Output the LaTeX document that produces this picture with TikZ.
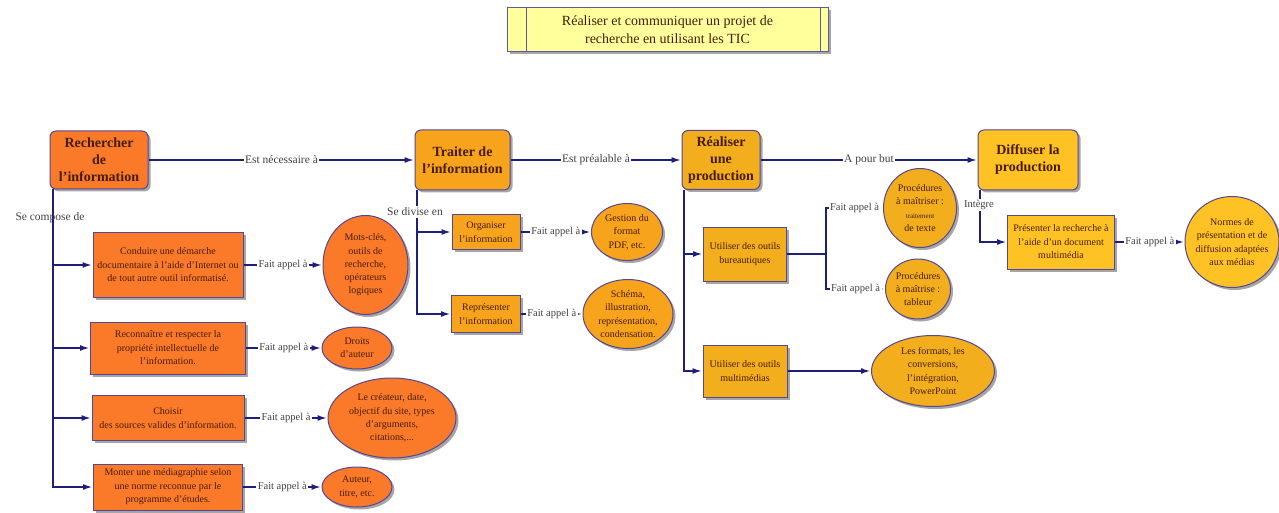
\documentclass[tikz,border=0pt]{standalone}
\usepackage{fontspec}
\setmainfont{Liberation Serif}
\usetikzlibrary{shapes.geometric,shadows,arrows.meta}
\definecolor{linkblue}{RGB}{30,30,125}
\definecolor{edgeblue}{RGB}{85,70,150}
\definecolor{txtbrown}{RGB}{70,28,8}
\definecolor{lblgray}{RGB}{65,65,65}
\definecolor{orangeA}{RGB}{250,122,42}
\definecolor{orangeB}{RGB}{247,163,27}
\definecolor{orangeC}{RGB}{242,174,28}
\definecolor{orangeD}{RGB}{255,194,36}
\definecolor{titlefill}{RGB}{255,255,155}

\begin{document}
\begin{tikzpicture}[x=1pt,y=-1pt,
        link/.style={draw=linkblue,line width=2pt},
        arr/.style={link,-{Latex[length=10pt,width=6pt]}},
        lbl/.style={font=\fontsize{10.5}{12}\selectfont,text=lblgray,fill=white,inner sep=1.5pt},
        biglbl/.style={lbl,font=\fontsize{11.5}{13}\selectfont},
        boxbase/.style={draw=edgeblue,line width=1pt,text=txtbrown,align=center,inner sep=2pt,
            drop shadow={shadow xshift=2.5pt,shadow yshift=-2.5pt,fill=black,opacity=0.35}},
        mainbox/.style={boxbase,rounded corners=6pt,font=\bfseries\fontsize{14}{17}\selectfont},
        subbox/.style={boxbase,rectangle,font=\fontsize{10}{13.5}\selectfont},
        bubble/.style={boxbase,ellipse,inner sep=0pt,font=\fontsize{10}{13.3}\selectfont},
    ]
    \useasboundingbox (0,0) rectangle (1279,513);

    % title
    \node[boxbase,rectangle,fill=titlefill,draw=gray!70!blue,minimum width=321pt,minimum height=44pt,
        font=\fontsize{14}{18}\selectfont] (title) at (667.5,30)
        {Réaliser et communiquer un projet de\\recherche en utilisant les TIC};
    \draw[gray!70!blue,line width=0.8pt]
        ([xshift=20pt]title.north west) -- ([xshift=20pt]title.south west)
        ([xshift=-8pt]title.north east) -- ([xshift=-8pt]title.south east);

    % main steps
    \node[mainbox,fill=orangeA,minimum width=98pt,minimum height=58pt] (rech) at (99,160) {Rechercher\\de\\l'information};
    \node[mainbox,fill=orangeB,minimum width=95pt,minimum height=60pt] (trait) at (462.5,160) {Traiter de\\l'information};
    \node[mainbox,fill=orangeC,minimum width=78pt,minimum height=59pt] (real) at (721,160) {Réaliser\\une\\production};
    \node[mainbox,fill=orangeD,minimum width=100pt,minimum height=60pt] (diff) at (1028,160) {Diffuser la\\production};

    \draw[arr] (rech) -- node[biglbl]{Est nécessaire à} (trait);
    \draw[arr] (trait) -- node[biglbl]{Est préalable à} (real);
    \draw[arr] (real) -- node[biglbl]{A pour but} (diff);

    % rechercher
    \node[subbox,fill=orangeA,minimum width=150pt,minimum height=65pt] (b1) at (168,265)
        {Conduire une démarche\\documentaire à l'aide d'Internet ou\\de tout autre outil informatisé.};
    \node[subbox,fill=orangeA,minimum width=155pt,minimum height=52pt] (b2) at (168,348)
        {Reconnaître et respecter la\\propriété intellectuelle de\\l'information.};
    \node[subbox,fill=orangeA,minimum width=152pt,minimum height=45pt] (b3) at (168,418)
        {Choisir\\des sources valides d'information.};
    \node[subbox,fill=orangeA,minimum width=149pt,minimum height=46pt] (b4) at (168,487)
        {Monter une médiagraphie selon\\une norme reconnue par le\\programme d'études.};

    \node[bubble,fill=orangeA,minimum width=85pt,minimum height=99pt] (e1) at (365.5,265)
        {Mots-clés,\\outils de\\recherche,\\opérateurs\\logiques};
    \node[bubble,fill=orangeA,minimum width=70pt,minimum height=42pt] (e2) at (357,348) {Droits\\d'auteur};
    \node[bubble,fill=orangeA,minimum width=128pt,minimum height=80pt] (e3) at (392,418)
        {Le créateur, date,\\objectif du site, types\\d'arguments,\\citations,...};
    \node[bubble,fill=orangeA,minimum width=70pt,minimum height=40pt] (e4) at (357,487) {Auteur,\\titre, etc.};

    \foreach \i in {1,...,4} {
        \draw[arr] ([xshift=3pt]rech.south west) |- (b\i.west);
        \draw[arr] (b\i) -- node[lbl]{Fait appel à} (e\i);
    }
    \node[biglbl,fill=none] (compose) at (50,218) {Se compose de};

    % traiter
    \node[subbox,fill=orangeB,minimum width=68pt,minimum height=35pt] (org) at (486,232) {Organiser\\l'information};
    \node[subbox,fill=orangeB,minimum width=69pt,minimum height=37pt] (rep) at (486,314) {Représenter\\l'information};
    \node[bubble,fill=orangeB,minimum width=71pt,minimum height=57pt] (pdf) at (627,232) {Gestion du\\format\\PDF, etc.};
    \node[bubble,fill=orangeB,minimum width=90pt,minimum height=69pt] (schema) at (628,314)
        {Schéma,\\illustration,\\représentation,\\condensation.};

    \foreach \b in {org,rep}
        \draw[arr] ([xshift=2pt]trait.south west) |- (\b.west);
    \node[biglbl] (divise) at (415,212) {Se divise en};
    \draw[arr] (org) -- node[lbl]{Fait appel à} (pdf);
    \draw[arr] (rep) -- node[lbl]{Fait appel à} (schema);

    % realiser
    \node[subbox,fill=orangeC,minimum width=83pt,minimum height=54pt] (bur) at (745,254) {Utiliser des outils\\bureautiques};
    \node[subbox,fill=orangeC,minimum width=84pt,minimum height=52pt] (mult) at (745,371) {Utiliser des outils\\multimédias};
    \node[bubble,fill=orangeC,minimum width=73pt,minimum height=79pt] (texte) at (920,208)
        {Procédures\\à maîtriser :\\{\fontsize{7}{9}\selectfont traitement}\\de texte};
    \node[bubble,fill=orangeC,minimum width=65pt,minimum height=60pt] (tableur) at (918,289)
        {Procédures\\à maîtrise :\\tableur};
    \node[bubble,fill=orangeC,minimum width=123pt,minimum height=71pt] (formats) at (933,371)
        {Les formats, les\\conversions,\\l'intégration,\\PowerPoint};

    \foreach \b in {bur,mult}
        \draw[arr] ([xshift=2pt]real.south west) |- (\b.west);
    \draw[link] (bur.east) -- ++(39,0) coordinate (split);
    \draw[arr] (split) |- node[lbl,pos=0.75]{Fait appel à} (texte.west);
    \draw[arr] (split) |- node[lbl,pos=0.75]{Fait appel à} (tableur.west);
    \draw[arr] (mult) -- (formats);

    % diffuser
    \node[subbox,fill=orangeD,minimum width=107pt,minimum height=54pt] (pres) at (1061,242)
        {Présenter la recherche à\\l'aide d'un document\\multimédia};
    \node[bubble,fill=orangeD,inner xsep=-5pt,minimum width=94pt,minimum height=91pt] (normes) at (1232,242)
        {Normes de\\présentation et de\\diffusion adaptées\\aux médias};

    \draw[arr] ([xshift=2pt]diff.south west) |- (pres.west);
    \node[lbl] (integre) at (979,205) {Intègre};
    \draw[arr] (pres) -- node[lbl]{Fait appel à} (normes);
\end{tikzpicture}
\end{document}
